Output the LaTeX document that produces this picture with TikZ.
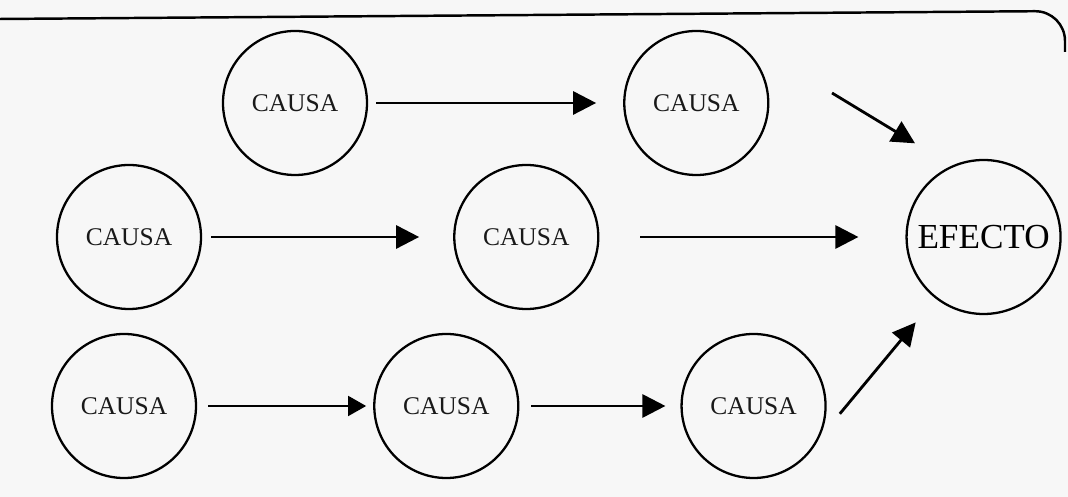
\documentclass[tikz,border=0pt]{standalone}
\usepackage{fontspec}
\setmainfont{Liberation Serif}
\usetikzlibrary{arrows.meta,positioning}

\begin{document}
\begin{tikzpicture}[node distance=3.5cm,
	causa/.style={circle, draw, line width=1.3pt, minimum size=2.88cm, inner sep=0pt, text=black!90, font=\fontsize{14.5}{17}\selectfont},
	efecto/.style={circle, draw, line width=1.3pt, minimum size=3.08cm, inner sep=0pt, font=\fontsize{20}{24}\selectfont},
	flecha/.style={line width=1.6pt, -{Triangle[length=0.46cm,width=0.46cm]}},
	flechina/.style={line width=1pt, -{Triangle[length=0.36cm,width=0.4cm]}}]
				\useasboundingbox[fill=black!3] (0,0) rectangle (21.36,9.94);
				% marco del recuadro
				\coordinate (bordo-sx) at (0,9.56);
				\coordinate (bordo-ang) at (21.30,9.72);
				\coordinate (bordo-dx) at (21.30,8.90);
				\draw[line width=1.4pt, rounded corners=0.6cm] (bordo-sx) -- (bordo-ang) -- (bordo-dx);
				
				% fila superior
				\node[causa] (ca1) at (5.90,7.88) {CAUSA};
				\node[causa, right=5.1cm of ca1] (ca2) {CAUSA};
				% fila central
				\node[causa] (cb1) at (2.58,5.20) {CAUSA};
				\node[causa, right=5.02cm of cb1] (cb2) {CAUSA};
				\node[efecto, right=6.12cm of cb2] (efecto) {EFECTO};
				% fila inferior
				\node[causa] (cc1) at (2.48,1.82) {CAUSA};
				\node[causa, right=3.52cm of cc1] (cc2) {CAUSA};
				\node[causa, right=3.22cm of cc2] (cc3) {CAUSA};
				
				\coordinate (inicio) at (16.64,8.08);
				
				\draw[flecha, shorten <=0.16cm, shorten >=0.54cm] (ca1) -- (ca2);
				\draw[flecha, shorten >=0.86cm] (inicio) -- (efecto.114);
				\draw[flecha, shorten <=0.18cm, shorten >=0.68cm] (cb1) -- (cb2);
				\draw[flecha, shorten <=0.82cm, shorten >=0.94cm] (cb2) -- (efecto);
				\draw[flechina, shorten <=0.22cm, shorten >=0.14cm] (cc1) -- (cc2);
				\draw[flecha, shorten <=0.24cm, shorten >=0.30cm] (cc2) -- (cc3);
				\draw[flecha, shorten <=0.66cm, shorten >=0.62cm] (cc3.-27) -- (efecto.-128);
			\end{tikzpicture}
\end{document}
